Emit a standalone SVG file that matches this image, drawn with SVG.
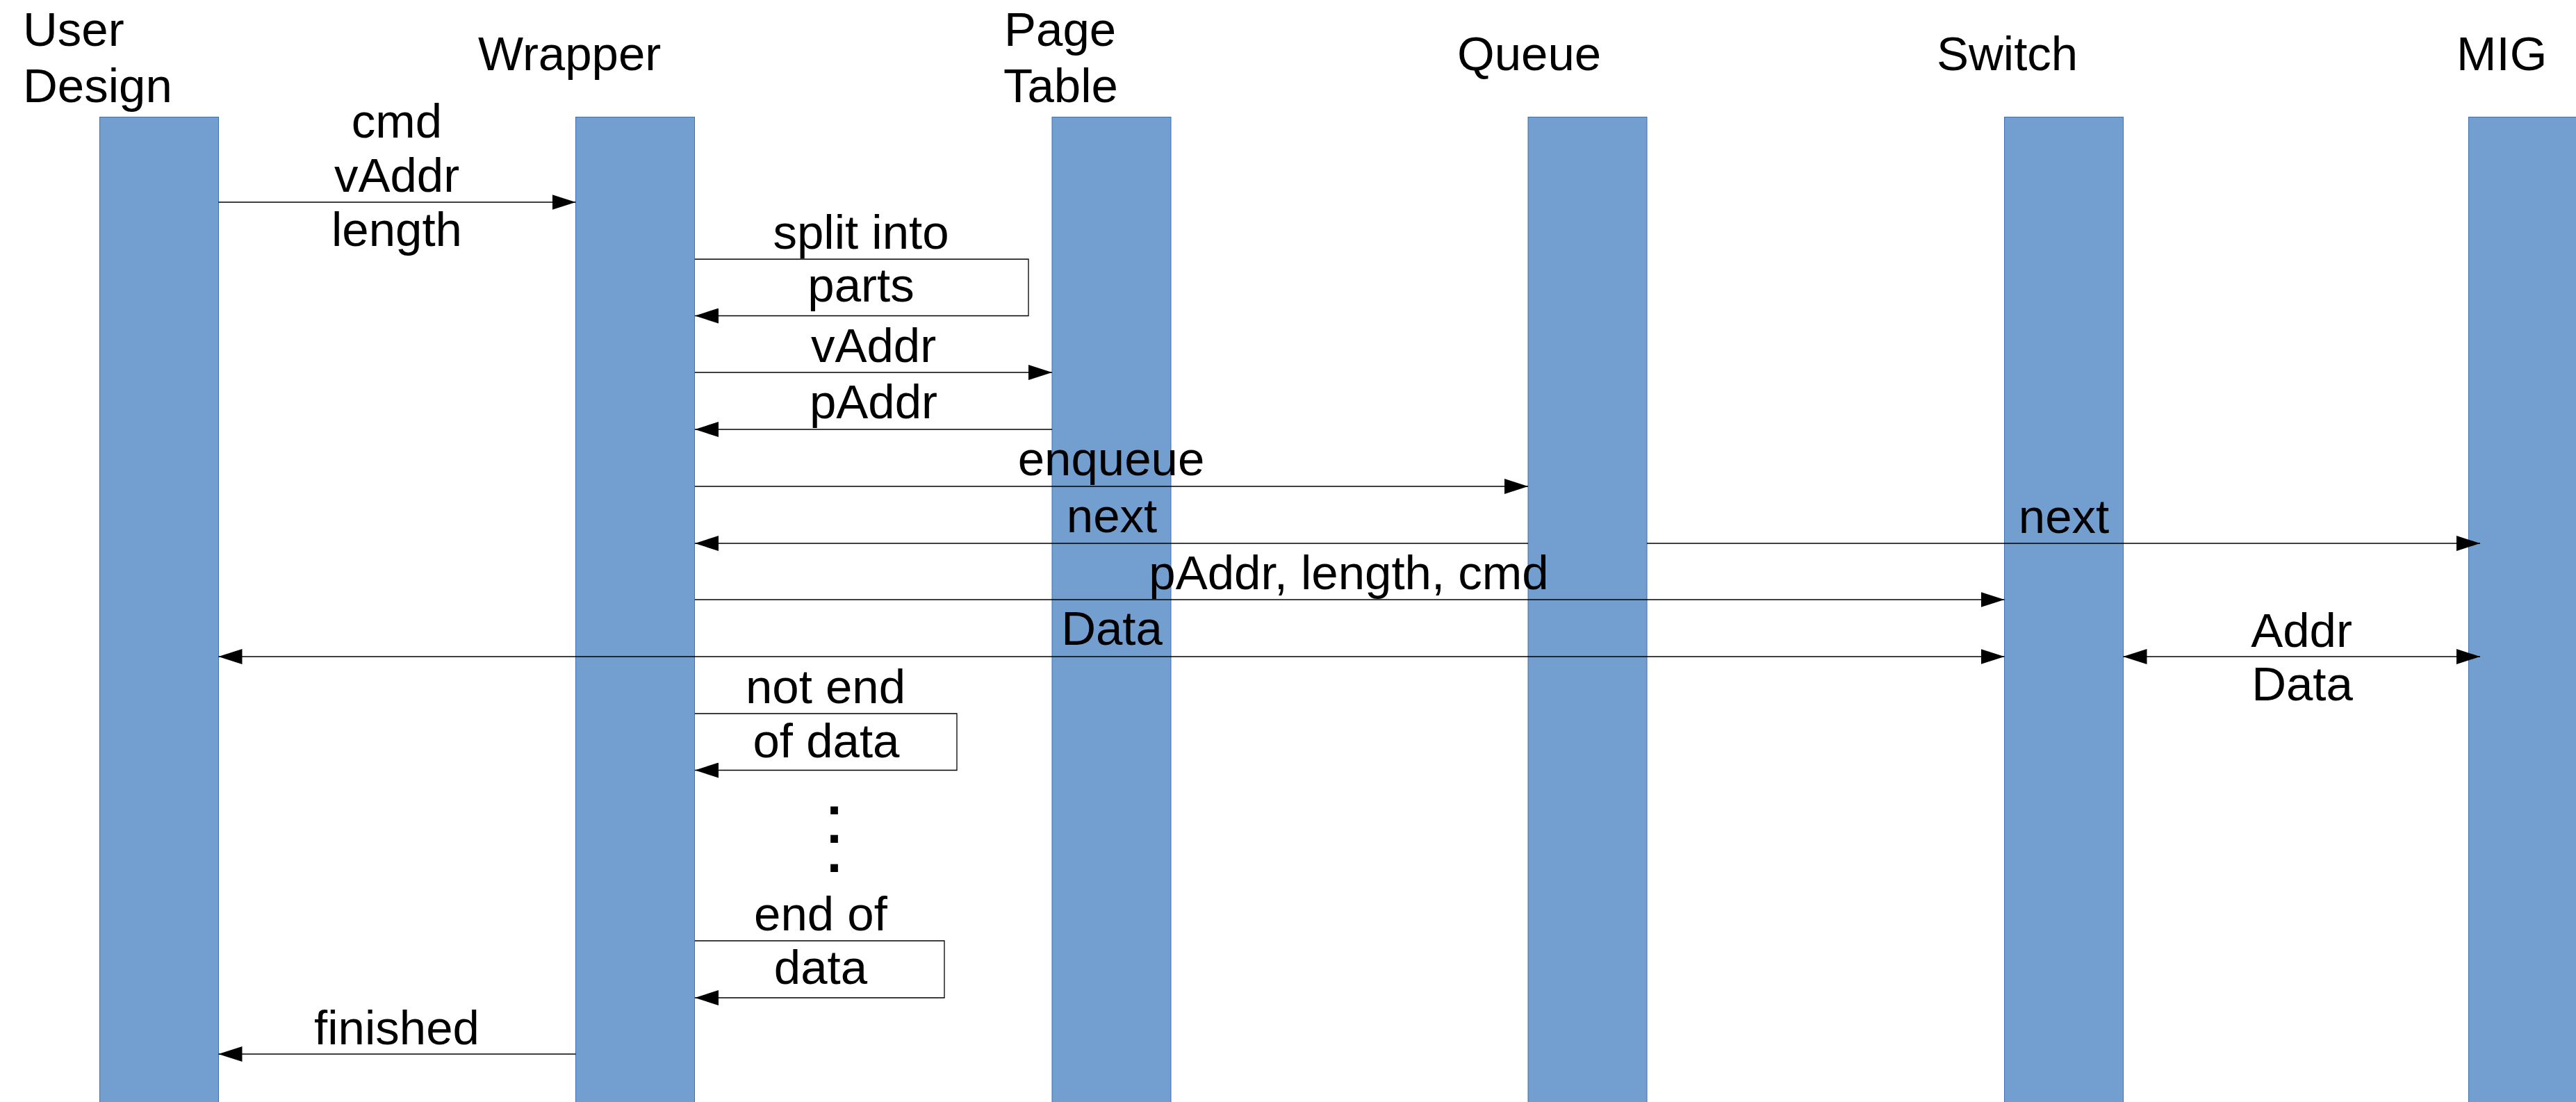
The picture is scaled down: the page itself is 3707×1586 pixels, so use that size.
<svg xmlns="http://www.w3.org/2000/svg" width="3707" height="1586" viewBox="0 0 3707 1586">
  <defs>
    <style>
      .life { fill: #729fcf; stroke: #3f6fae; stroke-width: 1; }
      .msg { fill: none; stroke: #000; stroke-width: 1.3; }
      .lbl { font-family: "Liberation Sans", Arial, sans-serif; font-size: 69px; fill: #000; }
      .c { text-anchor: middle; }
      .dot { font-family: "Liberation Sans", Arial, sans-serif; font-size: 76px; font-weight: bold; text-anchor: middle; fill: #000; }
    </style>
    <marker id="head" markerUnits="userSpaceOnUse" markerWidth="34" markerHeight="22" refX="34" refY="11" orient="auto-start-reverse">
      <path d="M0,0 L34,11 L0,22 z" fill="#000"/>
    </marker>
  </defs>
  <rect width="3707" height="1586" fill="#fff"/>

  <!-- lifelines with their titles -->
  <g id="user-design">
    <rect class="life" x="143.5" y="168.5" width="171" height="1430"/>
    <text class="lbl" x="33" y="66">User</text>
    <text class="lbl" x="33" y="147">Design</text>
  </g>
  <g id="wrapper">
    <rect class="life" x="828.5" y="168.5" width="171" height="1430"/>
    <text class="lbl" x="688" y="101">Wrapper</text>
  </g>
  <g id="page-table">
    <rect class="life" x="1514" y="168.5" width="171" height="1430"/>
    <text class="lbl" x="1445" y="66">Page</text>
    <text class="lbl" x="1444" y="147">Table</text>
  </g>
  <g id="queue">
    <rect class="life" x="2199" y="168.5" width="171" height="1430"/>
    <text class="lbl" x="2097" y="101">Queue</text>
  </g>
  <g id="switch">
    <rect class="life" x="2884.5" y="168.5" width="171" height="1430"/>
    <text class="lbl" x="2787" y="101">Switch</text>
  </g>
  <g id="mig">
    <rect class="life" x="3552.5" y="168.5" width="171" height="1430"/>
    <text class="lbl" x="3535" y="101">MIG</text>
  </g>

  <!-- messages -->
  <g id="connectors">
    <path class="msg" d="M314.5,291 H828.5" marker-end="url(#head)"/>
    <path class="msg" d="M1000,373 H1480 V454.5 H1000" marker-end="url(#head)"/>
    <path class="msg" d="M1000,536 H1514" marker-end="url(#head)"/>
    <path class="msg" d="M1514,618 H1000" marker-end="url(#head)"/>
    <path class="msg" d="M1000,700 H2199" marker-end="url(#head)"/>
    <path class="msg" d="M2199,782 H1000" marker-end="url(#head)"/>
    <path class="msg" d="M2370,782 H3569" marker-end="url(#head)"/>
    <path class="msg" d="M1000,863 H2884.5" marker-end="url(#head)"/>
    <path class="msg" d="M314.5,945 H2884.5" marker-start="url(#head)" marker-end="url(#head)"/>
    <path class="msg" d="M3055.5,945 H3569" marker-start="url(#head)" marker-end="url(#head)"/>
    <path class="msg" d="M1000,1027 H1377 V1108.5 H1000" marker-end="url(#head)"/>
    <path class="msg" d="M1000,1354 H1359 V1436 H1000" marker-end="url(#head)"/>
    <path class="msg" d="M828.5,1517 H314.5" marker-end="url(#head)"/>
  </g>

  <!-- message labels -->
  <g id="labels">
    <text class="lbl c" x="571" y="198">cmd</text>
    <text class="lbl c" x="571" y="276">vAddr</text>
    <text class="lbl c" x="571" y="354">length</text>
    <text class="lbl c" x="1239" y="358">split into</text>
    <text class="lbl c" x="1239" y="434">parts</text>
    <text class="lbl c" x="1257" y="521">vAddr</text>
    <text class="lbl c" x="1257" y="602">pAddr</text>
    <text class="lbl c" x="1599" y="684">enqueue</text>
    <text class="lbl c" x="1600" y="766">next</text>
    <text class="lbl c" x="2970" y="767">next</text>
    <text class="lbl c" x="1941" y="848">pAddr, length, cmd</text>
    <text class="lbl c" x="1600" y="928">Data</text>
    <text class="lbl c" x="3312" y="931">Addr</text>
    <text class="lbl c" x="3313" y="1008">Data</text>
    <text class="lbl c" x="1188" y="1012">not end</text>
    <text class="lbl c" x="1189" y="1090">of data</text>
    <!-- vertical ellipsis: three stacked full stops -->
    <text class="dot" x="1200.5" y="1172">.<tspan x="1200.5" dy="41">.</tspan><tspan x="1200.5" dy="42">.</tspan></text>
    <text class="lbl c" x="1181" y="1339">end of</text>
    <text class="lbl c" x="1181" y="1416">data</text>
    <text class="lbl c" x="571" y="1503">finished</text>
  </g>
</svg>
